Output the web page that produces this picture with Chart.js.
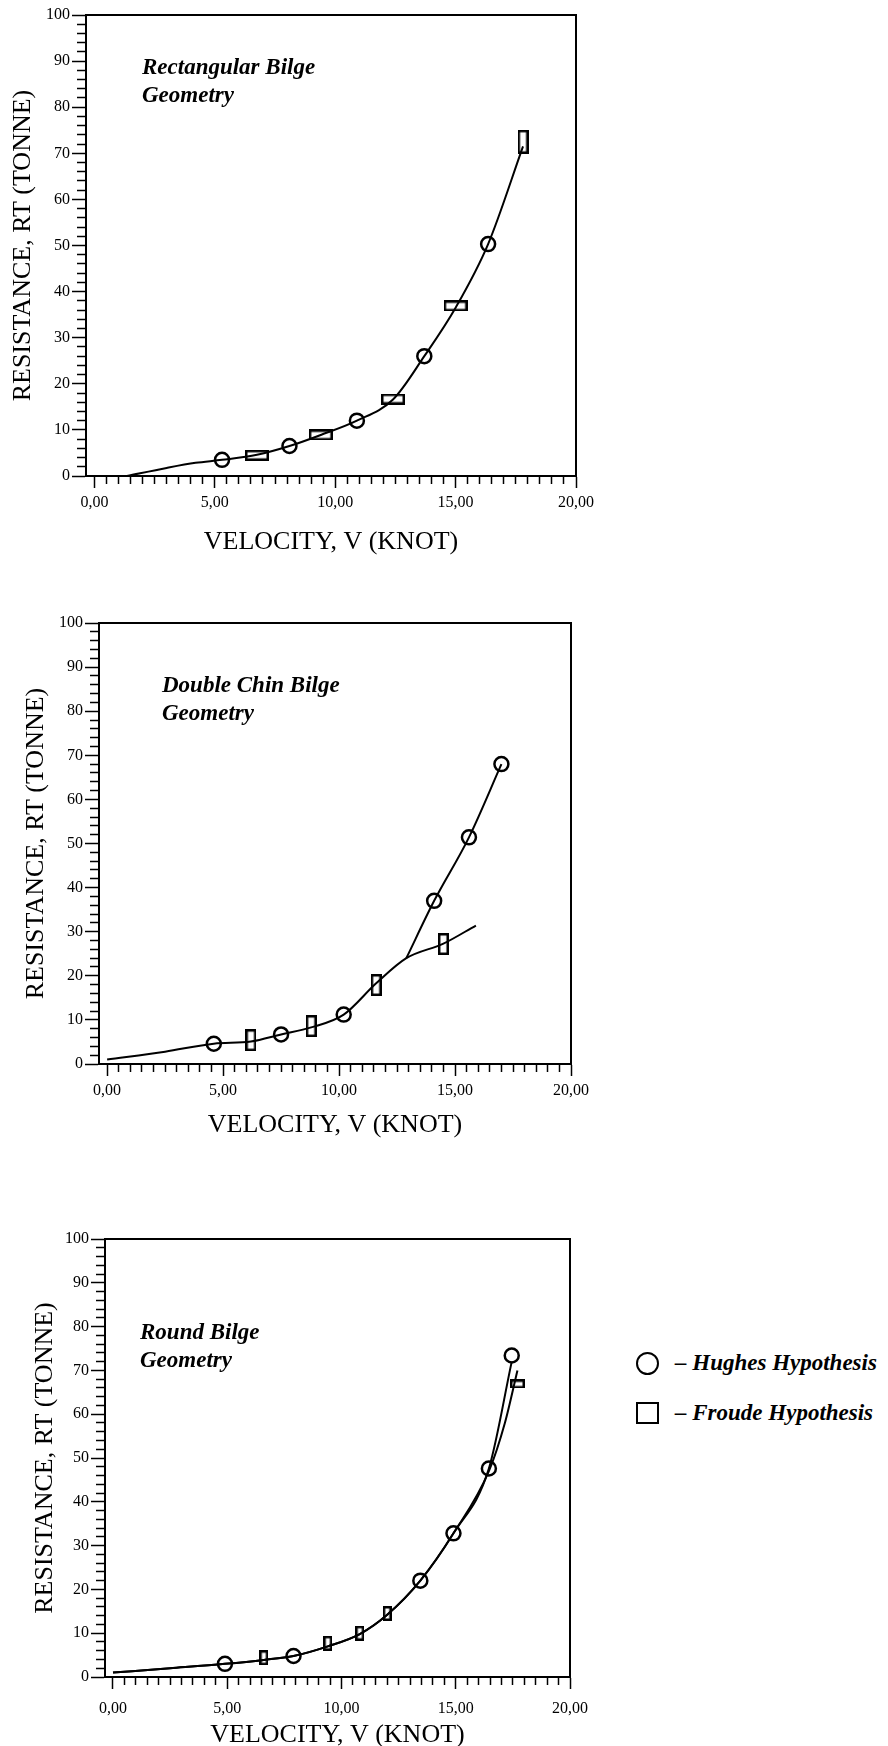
<!DOCTYPE html>
<html lang="en">
<head>
  <meta charset="UTF-8">
  <title>Resistance vs Velocity</title>
  <script src="https://cdn.jsdelivr.net/npm/chart.js"></script>
  <style>
    html, body { margin: 0; padding: 0; width: 888px; height: 1746px; overflow: hidden; background: #fff; }
    .panel { position: absolute; left: 0; }
    .legend { position: absolute; left: 0; top: 0; font: italic bold 23px "Liberation Serif", serif; color: #000; }
    .legend .row { position: absolute; white-space: nowrap; }
    .legend .sym { position: absolute; box-sizing: border-box; border: 2.5px solid #000; }
  </style>
</head>
<body>
  <div class="panel" style="top:0; width:600px; height:560px"><canvas id="rectChart"></canvas></div>
  <div class="panel" style="top:600px; width:600px; height:560px"><canvas id="chinChart"></canvas></div>
  <div class="panel" style="top:1220px; width:600px; height:526px"><canvas id="roundChart"></canvas></div>
  <div class="legend" id="legend"></div>

  <script>
    // axis ticks (labelled ones)
    const velocityTicks = [0, 5, 10, 15, 20];
    const resistanceTicks = [0, 10, 20, 30, 40, 50, 60, 70, 80, 90, 100];
    const seriesNames = ['Hughes Hypothesis', 'Froude Hypothesis'];

    // Rectangular bilge
    const rectHughesV = [5.3, 8.1, 10.9, 13.7, 16.35];
    const rectHughesR = [3.5, 6.5, 12.0, 26.0, 50.3];
    const rectFroudeV = [6.75, 9.4, 12.4, 15.0, 17.8];
    const rectFroudeR = [4.5, 8.9, 16.7, 36.9, 72.5];
    const rectCurveV = [1.35, 3.0, 4.2, 5.3, 6.75, 8.1, 9.4, 10.9, 12.4, 13.7, 15.0, 16.35, 17.8];
    const rectCurveR = [0, 1.75, 2.85, 3.5, 4.6, 6.5, 8.9, 12.0, 16.6, 26.0, 36.5, 50.3, 71.5];

    // Double chin bilge (Hughes branch leaves the common curve at about 12.9 kn)
    const chinHughesV = [4.6, 7.5, 10.2, 14.1, 15.6, 17.0];
    const chinHughesR = [4.6, 6.7, 11.2, 37.0, 51.4, 68.0];
    const chinFroudeV = [6.2, 8.8, 11.6, 14.5];
    const chinFroudeR = [5.4, 8.6, 17.9, 27.2];
    const chinFroudeCurveV = [0, 2.5, 4.6, 6.2, 7.5, 8.8, 10.2, 11.6, 12.9, 14.5, 15.9];
    const chinFroudeCurveR = [1.0, 2.8, 4.6, 5.1, 6.7, 8.3, 11.2, 18.3, 24.0, 27.3, 31.4];
    const chinHughesCurveV = [12.9, 14.1, 15.6, 17.0];
    const chinHughesCurveR = [24.0, 37.0, 51.4, 68.0];

    // Round bilge
    const roundHughesV = [4.9, 7.9, 13.45, 14.9, 16.45, 17.45];
    const roundHughesR = [3.0, 4.8, 22.0, 32.8, 47.6, 73.4];
    const roundFroudeV = [6.6, 9.4, 10.8, 12.0, 17.7];
    const roundFroudeR = [4.4, 7.7, 10.0, 14.5, 66.9];
    const roundHughesCurveV = [0, 2.5, 4.9, 6.6, 7.9, 9.4, 10.8, 12.0, 13.45, 14.9, 16.45, 17.45];
    const roundHughesCurveR = [1.0, 2.0, 3.0, 3.9, 4.8, 7.0, 9.8, 14.2, 22.0, 32.8, 47.6, 72.0];
    const roundFroudeCurveV = [0, 2.5, 4.9, 6.6, 7.9, 9.4, 10.8, 12.0, 13.45, 14.9, 16.45, 17.15, 17.7];
    const roundFroudeCurveR = [1.0, 2.0, 3.0, 3.9, 4.8, 7.0, 9.8, 14.2, 22.0, 32.8, 47.0, 58.0, 70.0];

    const SERIF = '"Liberation Serif", "DejaVu Serif", serif';

    function pts(xs, ys) {
      return xs.map((v, i) => ({ x: v, y: ys[i] }));
    }

    // open rectangle used as the Froude marker
    function boxMarker(w, h, lw) {
      const c = document.createElement('canvas');
      c.width = w;
      c.height = h;
      const g = c.getContext('2d');
      g.strokeStyle = '#000';
      g.lineWidth = lw;
      g.strokeRect(lw / 2, lw / 2, w - lw, h - lw);
      return c;
    }

    const frame = {
      id: 'frame',
      afterDraw(chart) {
        const a = chart.chartArea, ctx = chart.ctx;
        ctx.save();
        ctx.strokeStyle = '#000';
        ctx.lineWidth = 2;
        ctx.beginPath();
        ctx.moveTo(a.left, a.top);
        ctx.lineTo(a.right, a.top);
        ctx.lineTo(a.right, a.bottom);
        ctx.stroke();
        ctx.restore();
      }
    };

    const caption = {
      id: 'caption',
      afterDatasetsDraw(chart, args, opts) {
        const a = chart.chartArea, ctx = chart.ctx;
        ctx.save();
        ctx.font = 'italic bold 23px ' + SERIF;
        ctx.fillStyle = '#000';
        ctx.textBaseline = 'alphabetic';
        opts.lines.forEach((t, i) => ctx.fillText(t, a.left + opts.dx, a.top + opts.dy + i * 28));
        ctx.restore();
      }
    };

    function panel(id, s, curves, hughes, froude) {
      const markers = s.boxes.map(b => boxMarker(b[0], b[1], 2.5));
      const datasets = curves.map(c => ({
        data: c,
        showLine: true,
        cubicInterpolationMode: 'monotone',
        borderColor: '#000',
        borderWidth: 2,
        pointRadius: 0,
        fill: false
      }));
      datasets.push({
        label: seriesNames[0],
        data: hughes,
        showLine: false,
        pointStyle: 'circle',
        pointRadius: 7,
        borderColor: '#000',
        borderWidth: 2.5,
        backgroundColor: 'rgba(0,0,0,0)'
      });
      datasets.push({
        label: seriesNames[1],
        data: froude,
        showLine: false,
        pointStyle: ctx => markers[ctx.dataIndex] || 'rect',
        pointRadius: 6,
        borderColor: '#000',
        backgroundColor: 'rgba(0,0,0,0)'
      });

      return new Chart(document.getElementById(id), {
        type: 'scatter',
        data: { datasets },
        plugins: [frame, caption],
        options: {
          responsive: true,
          maintainAspectRatio: false,
          animation: false,
          events: [],
          layout: { padding: { left: 0, top: s.top, right: s.right, bottom: 0 } },
          plugins: {
            legend: { display: false },
            tooltip: { enabled: false },
            caption: { lines: s.caption, dx: s.capDx, dy: s.capDy }
          },
          scales: {
            x: {
              type: 'linear',
              min: -0.35,
              max: 20,
              border: { display: true, color: '#000', width: 2 },
              grid: {
                drawOnChartArea: false,
                tickLength: 12,
                tickColor: '#000',
                tickWidth: 1.5,
                tickBorderDash: ctx => (ctx.tick && !velocityTicks.includes(ctx.tick.value)) ? [7, 20] : []
              },
              afterBuildTicks: sc => {
                sc.ticks = [];
                for (let v = 0; v <= 20; v += 0.5) sc.ticks.push({ value: v });
              },
              ticks: {
                autoSkip: false,
                maxRotation: 0,
                padding: s.xTickPad,
                color: '#000',
                font: { family: SERIF, size: 16 },
                callback: v => velocityTicks.includes(v) ? v.toFixed(2).replace('.', ',') : ''
              },
              title: {
                display: true,
                text: 'VELOCITY, V (KNOT)',
                color: '#000',
                font: { family: SERIF, size: 26, lineHeight: 1 },
                padding: { top: 0, bottom: s.xTitlePad }
              },
              afterFit: sc => { sc.height = s.xAxisH; }
            },
            y: {
              type: 'linear',
              min: 0,
              max: 100,
              border: { display: true, color: '#000', width: 2 },
              grid: {
                drawOnChartArea: false,
                tickLength: 14,
                tickColor: '#000',
                tickWidth: 1.5,
                tickBorderDash: ctx => (ctx.tick && !resistanceTicks.includes(ctx.tick.value)) ? [0, 5, 9, 0] : []
              },
              afterBuildTicks: sc => {
                sc.ticks = [];
                for (let v = 0; v <= 100; v += 2) sc.ticks.push({ value: v });
              },
              ticks: {
                autoSkip: false,
                padding: 2,
                color: '#000',
                font: { family: SERIF, size: 16 },
                callback: v => resistanceTicks.includes(v) ? String(v) : ''
              },
              title: {
                display: true,
                text: 'RESISTANCE, RT (TONNE)',
                color: '#000',
                font: { family: SERIF, size: 26, lineHeight: 1.2 },
                padding: { top: s.yTitlePad, bottom: 0 }
              },
              afterFit: sc => { sc.width = s.yAxisW; }
            }
          }
        }
      });
    }

    panel('rectChart', {
      top: 15, right: 24, yAxisW: 86, xAxisH: 84, xTickPad: 5, xTitlePad: 5, yTitlePad: 8,
      caption: ['Rectangular Bilge', 'Geometry'], capDx: 56, capDy: 59,
      boxes: [[24, 11], [24, 11], [24, 11], [24, 11], [11, 24]]
    }, [pts(rectCurveV, rectCurveR)], pts(rectHughesV, rectHughesR), pts(rectFroudeV, rectFroudeR));

    panel('chinChart', {
      top: 23, right: 29, yAxisW: 99, xAxisH: 96, xTickPad: 5, xTitlePad: 22, yTitlePad: 21,
      caption: ['Double Chin Bilge', 'Geometry'], capDx: 63, capDy: 69,
      boxes: [[11, 22], [11, 22], [11, 22], [11, 22]]
    }, [pts(chinFroudeCurveV, chinFroudeCurveR), pts(chinHughesCurveV, chinHughesCurveR)],
       pts(chinHughesV, chinHughesR), pts(chinFroudeV, chinFroudeR));

    panel('roundChart', {
      top: 19, right: 30, yAxisW: 105, xAxisH: 69, xTickPad: 10, xTitlePad: -2, yTitlePad: 30,
      caption: ['Round Bilge', 'Geometry'], capDx: 35, capDy: 100,
      boxes: [[9, 15], [9, 15], [9, 15], [9, 15], [15, 9]]
    }, [pts(roundHughesCurveV, roundHughesCurveR), pts(roundFroudeCurveV, roundFroudeCurveR)],
       pts(roundHughesV, roundHughesR), pts(roundFroudeV, roundFroudeR));

    // legend next to the round bilge panel
    const legend = document.getElementById('legend');
    const legendRows = [
      { name: seriesNames[0], cy: 1363, sym: 'width:23px;height:23px;border-radius:50%' },
      { name: seriesNames[1], cy: 1413, sym: 'width:23px;height:22px' }
    ];
    legendRows.forEach(r => {
      const sym = document.createElement('div');
      sym.className = 'sym';
      sym.style.cssText = r.sym + ';left:636px;top:' + (r.cy - 11.5) + 'px';
      legend.appendChild(sym);
      const txt = document.createElement('div');
      txt.className = 'row';
      txt.style.left = '675px';
      txt.style.top = (r.cy - 14) + 'px';
      txt.style.lineHeight = '28px';
      txt.textContent = '\u2013 ' + r.name;
      legend.appendChild(txt);
    });
  </script>
</body>
</html>
